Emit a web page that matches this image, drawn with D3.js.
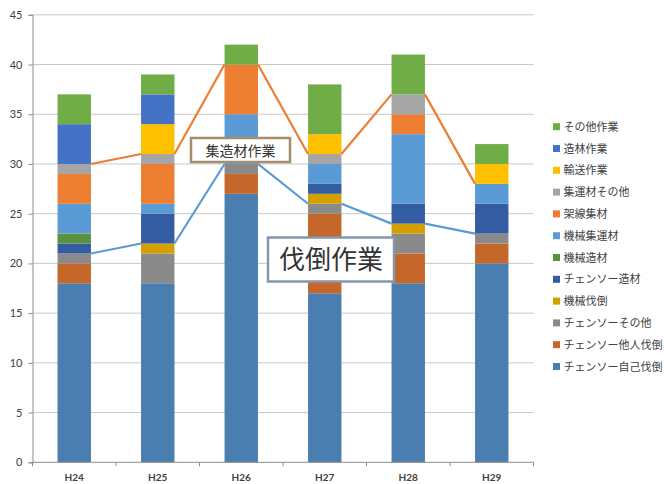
<!DOCTYPE html>
<html><head><meta charset="utf-8">
<script src="https://cdn.jsdelivr.net/npm/d3@7"></script>
<style>body{margin:0;background:#fff}svg{display:block}</style>
</head><body>
<svg id="c" width="664" height="484"></svg>
<script>
const categories = ["H24","H25","H26","H27","H28","H29"];
// stack order bottom -> top
const seriesNames = ["チェンソー自己伐倒","チェンソー他人伐倒","チェンソーその他","機械伐倒","チェンソー造材","機械造材","機械集運材","架線集材","集運材その他","輸送作業","造林作業","その他作業"];
const jiko      = [18,18,27,17,18,20];
const tanin     = [2,0,2,8,3,2];
const csOther   = [1,3,1,1,2,1];
const kikaiBatto= [0,1,0,1,1,0];
const csZouzai  = [1,3,0,1,2,3];
const kikaiZouzai=[1,0,0,0,0,0];
const kikaiShuun= [3,1,5,2,7,2];
const kasen     = [3,4,5,0,2,0];
const shuunOther= [1,1,0,1,2,0];
const yuso      = [0,3,0,2,0,2];
const zorin     = [4,3,0,0,0,0];
const sonota    = [3,2,2,5,4,2];
const seriesValues = [jiko,tanin,csOther,kikaiBatto,csZouzai,kikaiZouzai,kikaiShuun,kasen,shuunOther,yuso,zorin,sonota];
const colors = ["#4A7EB0","#C5662A","#8A8A8A","#D4A000","#345CA3","#5A913D","#5B9BD5","#ED7D31","#A5A5A5","#FFC000","#4472C4","#70AD47"];
const yTicks = [0,5,10,15,20,25,30,35,40,45];
// connector lines (value at each category)
const shuzouLine = [30,31,40,31,37,28];   // 集造材作業
const battoLine  = [21,22,30,26,24,23];   // 伐倒作業

const svg = d3.select("#c");
const m = {l:32.5, r:533.5, t:14.8, b:462.3};
const x = d3.scaleBand().domain(categories).range([m.l,m.r]).paddingInner(0.6).paddingOuter(0.3);
const y = d3.scaleLinear().domain([0,45]).range([m.b,m.t]);

// gridlines
svg.append("g").selectAll("line").data(yTicks.filter(d=>d>0)).join("line")
  .attr("x1",m.l).attr("x2",m.r).attr("y1",d=>y(d)).attr("y2",d=>y(d))
  .attr("stroke","#C8C8C8").attr("stroke-width",1);

// y axis
const ya = svg.append("g").attr("transform",`translate(${m.l},0)`)
  .call(d3.axisLeft(y).tickValues(yTicks).tickSize(4).tickPadding(6));
ya.select(".domain").attr("stroke","#8C8C8C");
ya.selectAll(".tick line").attr("stroke","#8C8C8C");
ya.selectAll("text").attr("font-family","Lato, 'Liberation Sans', sans-serif").attr("font-size",11).attr("fill","#404040");

// stacked bars
const table = categories.map((c,i)=>{const o={cat:c}; seriesNames.forEach((s,j)=>o[s]=seriesValues[j][i]); return o;});
const stacked = d3.stack().keys(seriesNames)(table);
svg.append("g").selectAll("g").data(stacked).join("g")
  .attr("fill",(d,i)=>colors[i])
  .selectAll("rect").data(d=>d).join("rect")
  .attr("x",d=>x(d.data.cat)).attr("width",x.bandwidth())
  .attr("y",d=>y(d[1])).attr("height",d=>y(d[0])-y(d[1]));

// x axis
const xa = svg.append("g").attr("transform",`translate(0,${m.b})`);
xa.append("line").attr("x1",m.l).attr("x2",m.r).attr("stroke","#8C8C8C");
const step = x.step();
xa.selectAll("line.t").data(d3.range(categories.length+1)).join("line").attr("class","t")
  .attr("x1",i=>m.l+i*step).attr("x2",i=>m.l+i*step).attr("y1",0).attr("y2",4).attr("stroke","#8C8C8C");
xa.selectAll("text").data(categories).join("text")
  .attr("x",d=>x(d)+x.bandwidth()/2).attr("y",19).attr("text-anchor","middle")
  .attr("font-family","Lato, 'Liberation Sans', sans-serif").attr("font-size",10).attr("font-weight","bold").attr("fill","#404040")
  .text(d=>d);

// connector lines
function connector(vals,color){
  const segs = d3.range(vals.length-1).map(i=>[[x(categories[i])+x.bandwidth(),y(vals[i])],[x(categories[i+1]),y(vals[i+1])]]);
  svg.append("g").selectAll("line").data(segs).join("line")
    .attr("x1",d=>d[0][0]).attr("y1",d=>d[0][1]).attr("x2",d=>d[1][0]).attr("y2",d=>d[1][1])
    .attr("stroke",color).attr("stroke-width",2.2);
}
connector(shuzouLine,"#ED7D31");
connector(battoLine,"#5B9BD5");

// annotation boxes
function box(x0,y0,w,h,stroke,txt,fs,ty){
  const g = svg.append("g");
  g.append("rect").attr("x",x0).attr("y",y0).attr("width",w).attr("height",h)
    .attr("fill","#fff").attr("stroke",stroke).attr("stroke-width",2.5);
  g.append("text").attr("x",x0+w/2).attr("y",ty).attr("text-anchor","middle")
    .attr("font-family","'Noto Sans CJK JP', sans-serif").attr("font-size",fs).attr("fill","#333")
    .text(txt);
}
box(191,138,99,24,"#A68D6C","集造材作業",14,155.5);
box(268,237.5,126,44,"#8496B0","伐倒作業",26,269);

// legend
const leg = svg.append("g");
const legItems = seriesNames.map((s,i)=>({s,c:colors[i]})).reverse();
const lg = leg.selectAll("g").data(legItems).join("g").attr("transform",(d,i)=>`translate(553,${126.7+i*21.8})`);
lg.append("rect").attr("x",0).attr("y",-3.5).attr("width",7).attr("height",7).attr("fill",d=>d.c);
lg.append("text").attr("x",10.5).attr("y",4).attr("font-family","'Noto Sans CJK JP', sans-serif").attr("font-size",11).attr("fill","#404040").text(d=>d.s);
</script>
</body></html>
